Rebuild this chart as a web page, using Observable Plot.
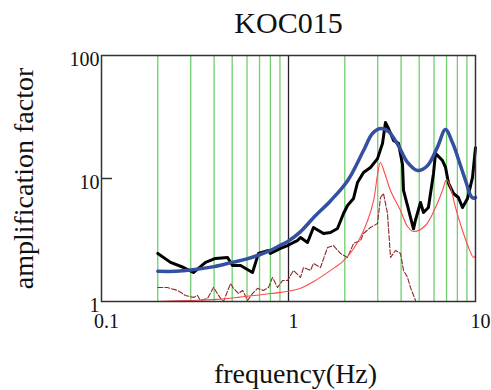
<!DOCTYPE html>
<html>
<head>
<meta charset="utf-8">
<script src="https://cdn.jsdelivr.net/npm/d3@7"></script>
<script src="https://cdn.jsdelivr.net/npm/@observablehq/plot@0.6"></script>
<style>
  html, body { margin: 0; padding: 0; background: #fff; }
  svg { display: block; }
  #chart svg text { font-family: "Liberation Serif", "Times New Roman", Times, serif !important; }
</style>
</head>
<body>
<div id="chart"></div>
<script>
const title = "KOC015";
const xLabel = "frequency(Hz)";
const yLabel = "amplification factor";
const xTicks = [0.1, 1, 10];
const yTicks = [1, 10, 100];
const minorGrid = [0.2, 0.3, 0.4, 0.5, 0.6, 0.7, 0.8, 0.9, 2, 3, 4, 5, 6, 7, 8, 9];
const majorGrid = [1];
const innerTickY = [10];

// observed (thick black)
const obsFreq = [0.2,0.234,0.275,0.31,0.36,0.407,0.472,0.502,0.554,0.642,0.691,0.78,0.80,0.906,0.988,1.063,1.117,1.159,1.264,1.36,1.539,1.677,1.828,1.969,2.068,2.227,2.339,2.518,2.745,2.992,3.183,3.30,3.426,3.644,3.875,4.071,4.121,4.329,4.492,4.661,4.777,5.081,5.272,5.60,5.963,6.11,6.661,6.914,7.18,7.628,8.1,8.52,9.062,9.64,10];
const obsAmp = [2.46,2.08,1.89,1.72,2.08,2.24,2.28,1.96,1.96,1.72,2.46,2.60,2.46,2.70,2.85,3.02,3.13,3.31,3.02,4.00,3.57,3.64,3.92,5.19,6.03,6.88,9.28,11.2,12.3,14.5,19.3,28.5,25.5,20.4,19.3,13.0,7.99,6.03,4.82,3.9,4.6,6.38,5.29,5.81,11.0,16.0,14.0,12.3,9.11,7.55,7.01,5.81,6.88,10.2,17.8];

// smooth fit (blue)
const fitFreq = [0.2,0.25,0.3,0.4,0.5,0.6,0.7,0.8,0.9,1.0,1.16,1.36,1.68,2.07,2.52,2.81,3.10,3.43,3.87,4.33,4.90,5.53,6.26,6.91,7.54,8.32,8.95,9.40,9.76,10];
const fitAmp = [1.76,1.76,1.80,1.92,2.08,2.22,2.4,2.6,2.85,3.1,3.7,4.8,6.6,9.6,16.9,23.2,25.5,24.1,18.5,13.5,11.6,12.7,18.0,25.0,19.5,12.7,9.1,7.3,6.9,7.0];

// theoretical (thin red)
const theoFreq = [0.2,0.3,0.407,0.534,0.8,1.0,1.16,1.36,1.68,1.97,2.34,2.65,2.85,2.99,3.10,3.26,3.51,3.97,4.33,4.66,5.40,6.11,6.66,7.0,7.35,7.82,8.52,9.18,9.76,10];
const theoAmp = [1.0,1.02,1.04,1.08,1.16,1.21,1.28,1.45,1.79,2.15,3.02,4.55,6.62,10.6,13.5,11.2,8.0,5.5,4.07,3.71,4.15,5.8,8.0,9.8,8.45,5.8,3.78,2.75,2.28,2.37];

// dashed brown
const dashFreq = [0.2,0.225,0.255,0.281,0.31,0.326,0.338,0.369,0.397,0.417,0.433,0.449,0.49,0.508,0.54,0.568,0.604,0.642,0.683,0.735,0.782,0.821,0.874,0.929,0.988,1.063,1.159,1.203,1.311,1.36,1.483,1.617,1.74,1.897,2.068,2.227,2.427,2.518,2.745,2.992,3.105,3.221,3.384,3.512,3.735,3.972,4.121,4.329,4.492,4.777];
const dashAmp = [1.30,1.30,1.23,1.12,1.08,1.12,1.02,1.06,1.30,1.16,1.06,1.0,1.40,1.28,1.16,1.23,1.02,1.16,1.28,1.23,1.30,1.57,1.30,1.48,1.48,1.79,1.57,1.89,1.79,2.04,1.89,2.75,2.85,2.46,2.28,2.96,3.13,3.57,4.00,4.31,7.01,7.55,5.19,2.28,2.60,2.46,1.79,1.57,1.30,1.02];

const pts = (fs, as) => fs.map((f, i) => ({f, a: as[i]}));
const obs = pts(obsFreq, obsAmp);
const fit = pts(fitFreq, fitAmp);
const theo = pts(theoFreq, theoAmp);
const dash = pts(dashFreq, dashAmp);

const serif = "Liberation Serif, Times New Roman, Times, serif";
const W = 491, H = 390, ML = 101, MR = 16, MT = 55, MB = 89;

const chart = Plot.plot({
  width: W,
  height: H,
  marginLeft: ML,
  marginRight: MR,
  marginTop: MT,
  marginBottom: MB,
  style: {background: "#fff", fontFamily: serif},
  x: {type: "log", domain: [0.1, 10], axis: null},
  y: {type: "log", domain: [1, 100], axis: null},
  marks: [
    Plot.ruleX(minorGrid, {stroke: "#6fcf6f", strokeWidth: 1.3}),
    Plot.ruleX(majorGrid, {stroke: "#222", strokeWidth: 1.3}),
    Plot.tickY(innerTickY, {stroke: "#333", strokeWidth: 1.5, insetRight: W - ML - MR - 11}),
    Plot.line(dash, {x: "f", y: "a", stroke: "#8a2a2a", strokeWidth: 1.1, strokeDasharray: "5,2"}),
    Plot.line(obs, {x: "f", y: "a", stroke: "#000", strokeWidth: 3, strokeLinejoin: "round"}),
    Plot.line(fit, {x: "f", y: "a", stroke: "#3550a0", strokeWidth: 3.5, curve: "catmull-rom"}),
    Plot.line(theo, {x: "f", y: "a", stroke: "#ff4a4a", strokeWidth: 1.1, curve: "catmull-rom"}),
    Plot.frame({stroke: "#333", strokeWidth: 1.5}),
    Plot.text(yTicks, {y: d => d, text: d => String(d), frameAnchor: "left", textAnchor: "end", dx: -2, dy: 4, fontSize: 20, fill: "#111"}),
    Plot.text(xTicks, {x: d => d, text: d => String(d), frameAnchor: "bottom", lineAnchor: "bottom", textAnchor: "middle", dy: 26, dx: 5, fontSize: 20, fill: "#111"}),
    Plot.text([title], {text: d => d, frameAnchor: "top", lineAnchor: "bottom", textAnchor: "middle", dy: -23, fontSize: 30, fill: "#111"}),
    Plot.text([xLabel], {text: d => d, frameAnchor: "bottom", lineAnchor: "bottom", textAnchor: "middle", dy: 81, dx: 7, fontSize: 28, fill: "#111"}),
    Plot.text([yLabel], {text: d => d, frameAnchor: "left", lineAnchor: "bottom", textAnchor: "middle", rotate: -90, dx: -69, fontSize: 28, fill: "#111"})
  ]
});
document.getElementById("chart").appendChild(chart);
</script>
</body>
</html>
